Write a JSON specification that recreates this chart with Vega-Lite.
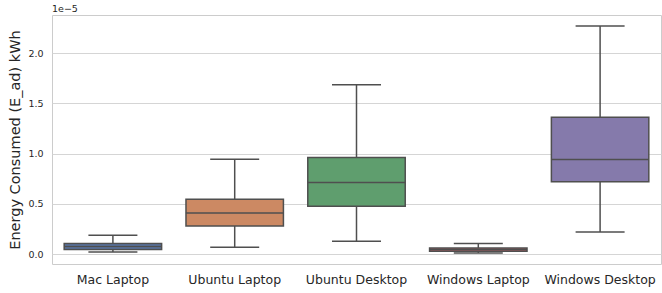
{
  "$schema": "https://vega.github.io/schema/vega-lite/v6.json",
  "autosize": {"type": "none"},
  "padding": {"left": 52, "top": 15, "right": 1, "bottom": 29},
  "width": 609,
  "height": 249,
  "background": "white",
  "title": {"text": "1e\u22125", "anchor": "start", "frame": "group", "fontSize": 9.5, "fontWeight": "normal", "color": "#262626", "font": "DejaVu Sans", "offset": 2},
  "config": {
    "view": {"stroke": "#cccccc", "strokeWidth": 1},
    "font": "DejaVu Sans",
    "axis": {"labelFont": "DejaVu Sans", "titleFont": "DejaVu Sans", "labelColor": "#262626", "titleColor": "#262626", "titleFontWeight": "normal"}
  },
  "data": {"values": [
    {"device": "Mac Laptop", "lower": 2.3e-7, "q1": 4.7e-7, "median": 7.7e-7, "q3": 1.07e-6, "upper": 1.9e-6},
    {"device": "Ubuntu Laptop", "lower": 7.0e-7, "q1": 2.8e-6, "median": 4.1e-6, "q3": 5.48e-6, "upper": 9.46e-6},
    {"device": "Ubuntu Desktop", "lower": 1.3e-6, "q1": 4.78e-6, "median": 7.14e-6, "q3": 9.63e-6, "upper": 1.686e-5},
    {"device": "Windows Laptop", "lower": 1.3e-7, "q1": 3.0e-7, "median": 4.7e-7, "q3": 6.3e-7, "upper": 1.07e-6},
    {"device": "Windows Desktop", "lower": 2.22e-6, "q1": 7.2e-6, "median": 9.43e-6, "q3": 1.364e-5, "upper": 2.271e-5}
  ]},
  "encoding": {
    "x": {
      "field": "device", "type": "nominal", "sort": null,
      "scale": {"paddingInner": 0, "paddingOuter": 0},
      "axis": {"title": null, "labelAngle": 0, "labelFontSize": 12.5, "ticks": false, "domain": false, "grid": false, "labelPadding": 9}
    }
  },
  "layer": [
    {
      "mark": {"type": "rule", "color": "#4f4f4f", "strokeWidth": 1.5},
      "encoding": {
        "y": {
          "field": "lower", "type": "quantitative",
          "scale": {"domain": [-9.7e-7, 2.38e-5], "nice": false, "zero": false},
          "axis": {
            "title": "Energy Consumed (E_ad) kWh",
            "titleFontSize": 14.5,
            "titlePadding": 5,
            "values": [0, 5e-6, 1e-5, 1.5e-5, 2e-5],
            "labelExpr": "format(datum.value * 100000, '.1f')",
            "labelFontSize": 9.5,
            "labelPadding": 9,
            "ticks": false,
            "domain": false,
            "grid": true,
            "gridColor": "#d5d5d5",
            "gridWidth": 1
          }
        },
        "y2": {"field": "upper"}
      }
    },
    {
      "mark": {"type": "tick", "color": "#4f4f4f", "thickness": 1.5, "size": 49, "opacity": 1},
      "encoding": {"y": {"field": "lower", "type": "quantitative"}}
    },
    {
      "mark": {"type": "tick", "color": "#4f4f4f", "thickness": 1.5, "size": 49, "opacity": 1},
      "encoding": {"y": {"field": "upper", "type": "quantitative"}}
    },
    {
      "mark": {"type": "bar", "width": {"band": 0.8}, "stroke": "#4f4f4f", "strokeWidth": 1.5, "opacity": 1},
      "encoding": {
        "y": {"field": "q1", "type": "quantitative"},
        "y2": {"field": "q3"},
        "color": {
          "field": "device", "type": "nominal", "legend": null,
          "scale": {"domain": ["Mac Laptop", "Ubuntu Laptop", "Ubuntu Desktop", "Windows Laptop", "Windows Desktop"], "range": ["#5975a4", "#cc8963", "#5f9e6e", "#b55d60", "#857aab"]}
        }
      }
    },
    {
      "mark": {"type": "tick", "color": "#4f4f4f", "thickness": 1.5, "size": 97.5, "opacity": 1},
      "encoding": {"y": {"field": "median", "type": "quantitative"}}
    }
  ]
}
